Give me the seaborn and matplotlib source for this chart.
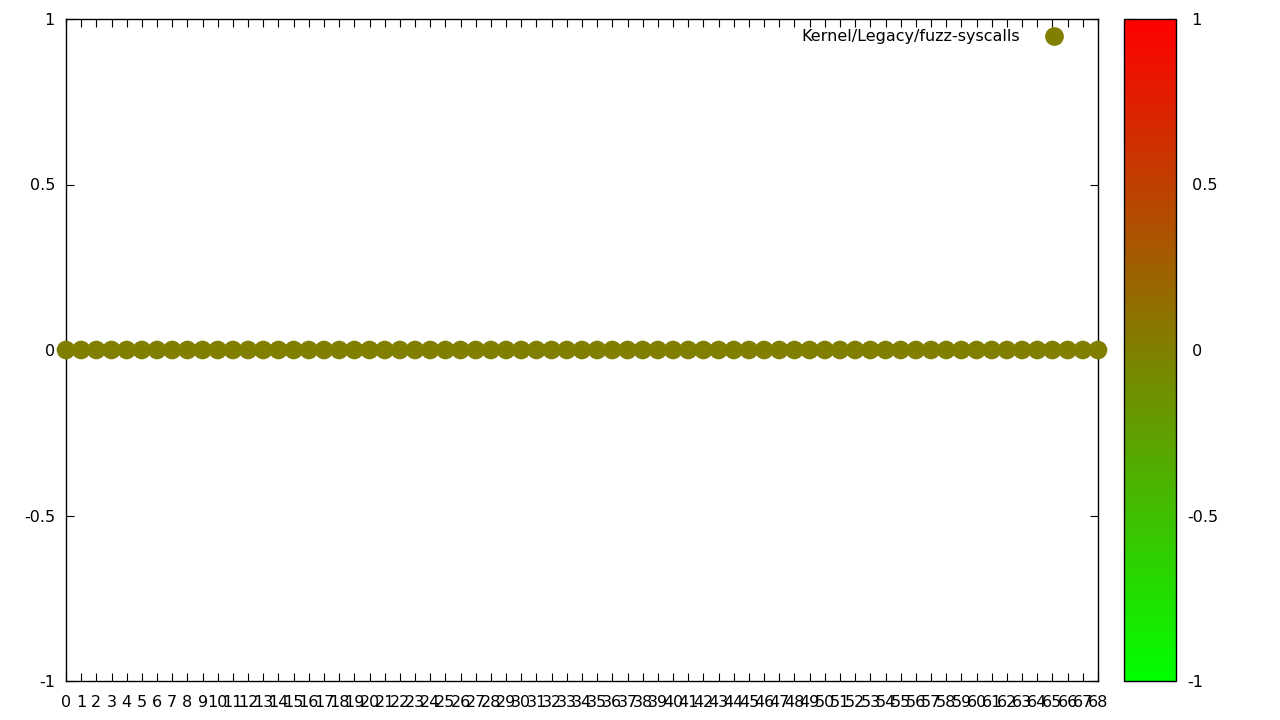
"""Gnuplot-style flat scatter of one test series, coloured by value on a green-red scale."""

import matplotlib
matplotlib.use("Agg")
import matplotlib.pyplot as plt
import pandas as pd
import seaborn as sns
from matplotlib.colors import LinearSegmentedColormap, Normalize
from matplotlib.cm import ScalarMappable
from matplotlib.lines import Line2D

SERIES_LABEL = "Kernel/Legacy/fuzz-syscalls"
RUN_INDEX = [0, 1, 2, 3, 4, 5, 6, 7, 8, 9, 10, 11, 12, 13, 14, 15, 16, 17, 18, 19,
             20, 21, 22, 23, 24, 25, 26, 27, 28, 29, 30, 31, 32, 33, 34, 35, 36, 37,
             38, 39, 40, 41, 42, 43, 44, 45, 46, 47, 48, 49, 50, 51, 52, 53, 54, 55,
             56, 57, 58, 59, 60, 61, 62, 63, 64, 65, 66, 67, 68]
RESULT = [0, 0, 0, 0, 0, 0, 0, 0, 0, 0, 0, 0, 0, 0, 0, 0, 0, 0, 0, 0,
          0, 0, 0, 0, 0, 0, 0, 0, 0, 0, 0, 0, 0, 0, 0, 0, 0, 0,
          0, 0, 0, 0, 0, 0, 0, 0, 0, 0, 0, 0, 0, 0, 0, 0, 0, 0,
          0, 0, 0, 0, 0, 0, 0, 0, 0, 0, 0, 0, 0]
Y_TICKS = [-1, -0.5, 0, 0.5, 1]
Y_TICK_LABELS = ["-1", "-0.5", "0", "0.5", "1"]
# gnuplot pads positive colorbox labels with a space so the minus hangs left
CB_TICK_LABELS = ["-1", "-0.5", " 0", " 0.5", " 1"]

sns.set_style("white")
plt.rcParams["font.family"] = ["DejaVu Sans"]
plt.rcParams.update({"text.color": "black", "xtick.color": "black",
                     "ytick.color": "black", "axes.labelcolor": "black"})
FS = 11.5

# green (-1) -> olive (0) -> red (+1), like gnuplot's rgb palette
cmap = LinearSegmentedColormap.from_list("gr", ["#00ff00", "#ff0000"])
norm = Normalize(vmin=-1, vmax=1)

df = pd.DataFrame({"run": RUN_INDEX, "result": RESULT})

fig = plt.figure(figsize=(12.8, 7.2), dpi=100)
ax = fig.add_axes([66 / 1280, 39 / 720, 1032 / 1280, 662 / 720])
cax = fig.add_axes([1124 / 1280, 39 / 720, 52 / 1280, 662 / 720])

sns.scatterplot(data=df, x="run", y="result", hue="result", palette=cmap,
                hue_norm=norm, s=180, linewidth=0, legend=False, ax=ax,
                clip_on=False, zorder=3)

ax.set_xlim(0, 68)
ax.set_ylim(-1, 1)
ax.set_xticks(RUN_INDEX)
ax.set_xticklabels([str(r) for r in RUN_INDEX], fontsize=FS)
ax.set_yticks(Y_TICKS)
ax.set_yticklabels(Y_TICK_LABELS, fontsize=FS)
ax.set_xlabel("")
ax.set_ylabel("")
ax.tick_params(direction="in", length=5.5, width=0.8, top=True, right=True,
               bottom=True, left=True, color="black", labelcolor="black")
ax.tick_params(axis="y", pad=8)
ax.tick_params(axis="x", pad=10)
for sp in ax.spines.values():
    sp.set_color("black")
    sp.set_linewidth(1)

handle = Line2D([], [], marker="o", linestyle="none", markersize=13.5,
                markerfacecolor=cmap(norm(0)), markeredgewidth=0)
leg = ax.legend([handle], [SERIES_LABEL], loc="upper right", frameon=False,
                markerfirst=False, fontsize=FS, handletextpad=1.1,
                borderaxespad=0, bbox_to_anchor=(0.979, 0.994))
for t in leg.get_texts():
    t.set_color("black")

cb = fig.colorbar(ScalarMappable(norm=norm, cmap=cmap), cax=cax)
cb.set_ticks(Y_TICKS)
cb.set_ticklabels(CB_TICK_LABELS, fontsize=FS)
cb.ax.tick_params(direction="in", length=5.5, width=0.8, left=True, right=True,
                  pad=8, color="black", labelcolor="black")
cb.outline.set_linewidth(1)
cb.outline.set_edgecolor("black")

fig.savefig("out.png", dpi=100)
